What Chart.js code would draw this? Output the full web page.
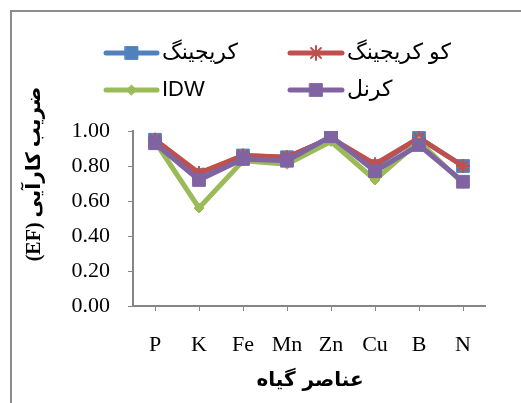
<!DOCTYPE html>
<html>
<head>
<meta charset="utf-8">
<script src="https://cdn.jsdelivr.net/npm/chart.js@4/dist/chart.umd.min.js"></script>
<style>
  html, body { margin: 0; padding: 0; background: #fff; overflow: hidden; }
  #frame { position: absolute; left: 10px; top: 10px; width: 700px; height: 600px;
           border-left: 2px solid #8c8c8c; border-top: 2px solid #8c8c8c; }
  #wrap { position: absolute; left: 0; top: 0; width: 521px; height: 403px; }
</style>
</head>
<body>
<div id="frame"></div>
<div id="wrap"><canvas id="efchart" width="521" height="403"></canvas></div>
<script>
// categories (plant elements)
const elements = ['P', 'K', 'Fe', 'Mn', 'Zn', 'Cu', 'B', 'N']
// series values
const kriging   = [0.95, 0.75, 0.86, 0.85, 0.96, 0.80, 0.96, 0.80]
const coKriging = [0.95, 0.76, 0.86, 0.85, 0.96, 0.81, 0.96, 0.80]
const idw       = [0.94, 0.56, 0.83, 0.81, 0.94, 0.72, 0.94, 0.70]
const kernel    = [0.93, 0.72, 0.84, 0.83, 0.97, 0.77, 0.92, 0.71]
// y axis ticks
const yTicks = [0, 0.2, 0.4, 0.6, 0.8, 1.0]

const seriesNames = ['کریجینگ', 'کو کریجینگ', 'IDW', 'کرنل']
const yTitle = 'ضریب کارآیی (EF)'
const xTitle = 'عناصر گیاه'

const serif = '"Liberation Serif", "DejaVu Serif", serif'
const axisGray = '#868686'

function makeSet(label, data, color, style, radius, order) {
    return {
        label: label,
        data: data,
        borderColor: color,
        backgroundColor: color,
        borderWidth: 5,
        pointStyle: style,
        pointRadius: radius,
        pointBorderWidth: style === 'star' ? 2 : 1,
        pointBackgroundColor: style === 'star' ? 'rgba(230,230,230,0.9)' : color,
        pointBorderColor: color,
        tension: 0,
        fill: false,
        order: order
    }
}

// legend drawn at fixed spots, two columns like the original
const legendSpots = [
    { x1: 106, x2: 157, y: 53, tx: 162 },
    { x1: 290, x2: 342, y: 53, tx: 347 },
    { x1: 106, x2: 157, y: 90, tx: 162 },
    { x1: 290, x2: 342, y: 90, tx: 347 }
]

const legendAndTitles = {
    id: 'legendAndTitles',
    afterDraw(chart) {
        const ctx = chart.ctx
        chart.data.datasets.forEach((ds, i) => {
            const s = legendSpots[i]
            ctx.save()
            ctx.strokeStyle = ds.borderColor
            ctx.lineWidth = 5
            ctx.lineCap = 'round'
            ctx.beginPath()
            ctx.moveTo(s.x1, s.y)
            ctx.lineTo(s.x2, s.y)
            ctx.stroke()
            ctx.fillStyle = ds.pointBackgroundColor
            ctx.strokeStyle = ds.pointBorderColor
            ctx.lineWidth = ds.pointBorderWidth
            Chart.helpers.drawPoint(ctx, {
                pointStyle: ds.pointStyle,
                radius: ds.pointRadius,
                rotation: 0,
                borderWidth: ds.pointBorderWidth
            }, (s.x1 + s.x2) / 2, s.y)
            ctx.restore()

            ctx.save()
            ctx.fillStyle = '#000'
            ctx.font = '22px "Liberation Sans", "DejaVu Sans", sans-serif'
            ctx.textBaseline = 'middle'
            ctx.textAlign = 'left'
            ctx.fillText(ds.label, s.tx, s.y)
            ctx.restore()
        })

        // axis titles (right-to-left text)
        ctx.save()
        ctx.fillStyle = '#000'
        ctx.direction = 'rtl'
        ctx.textAlign = 'center'
        ctx.textBaseline = 'middle'
        ctx.font = 'bold 20px ' + serif + ', "DejaVu Sans"'
        ctx.translate(35, 174)
        ctx.rotate(-Math.PI / 2)
        ctx.fillText(yTitle, 0, 0)
        ctx.restore()

        ctx.save()
        ctx.fillStyle = '#000'
        ctx.direction = 'rtl'
        ctx.textAlign = 'center'
        ctx.textBaseline = 'middle'
        ctx.font = 'bold 20px "DejaVu Sans", sans-serif'
        ctx.fillText(xTitle, 310, 381)
        ctx.restore()
    }
}

const efchart = document.getElementById('efchart').getContext('2d')

new Chart(efchart, {
    type: 'line',
    data: {
        labels: elements,
        datasets: [
            makeSet(seriesNames[0], kriging, '#4F81BD', 'rect', 9, 4),
            makeSet(seriesNames[1], coKriging, '#C0504D', 'star', 7, 3),
            makeSet(seriesNames[2], idw, '#9BBB59', 'rectRot', 5, 2),
            makeSet(seriesNames[3], kernel, '#8064A2', 'rect', 9, 1)
        ]
    },
    options: {
        responsive: false,
        animation: false,
        devicePixelRatio: 1,
        layout: {
            padding: { top: 131, right: 36, bottom: 0, left: 0 }
        },
        plugins: {
            legend: { display: false },
            tooltip: { enabled: false }
        },
        scales: {
            x: {
                offset: true,
                grid: { display: true, drawOnChartArea: false, offset: false, tickLength: 5, color: axisGray, lineWidth: 1 },
                border: { display: true, color: axisGray, width: 2 },
                ticks: {
                    color: '#000',
                    padding: 21,
                    maxRotation: 0,
                    font: { family: serif, size: 22 }
                },
                afterFit(scale) { scale.height = 97 }
            },
            y: {
                min: 0,
                max: 1,
                afterBuildTicks(scale) { scale.ticks = yTicks.map(v => ({ value: v })) },
                grid: { display: true, drawOnChartArea: false, tickLength: 5, color: axisGray, lineWidth: 1 },
                border: { display: true, color: axisGray, width: 2 },
                ticks: {
                    color: '#000',
                    padding: 18,
                    font: { family: serif, size: 22 },
                    callback: (v) => Number(v).toFixed(2)
                },
                afterFit(scale) { scale.width = 133 }
            }
        }
    },
    plugins: [legendAndTitles]
})
</script>
</body>
</html>
